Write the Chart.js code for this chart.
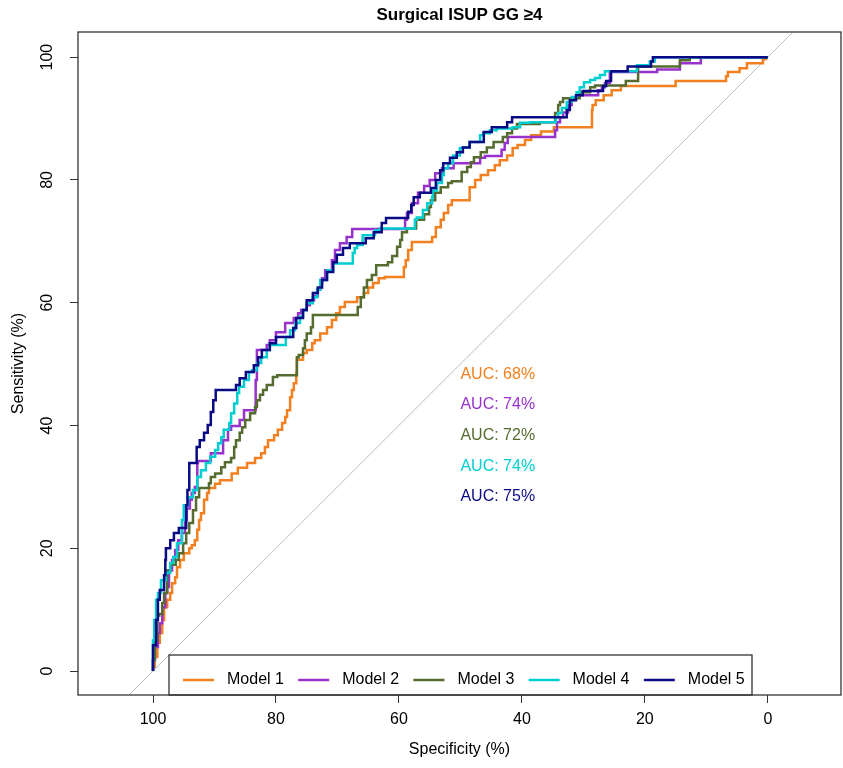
<!DOCTYPE html>
<html>
<head>
<meta charset="utf-8">
<script src="https://cdn.jsdelivr.net/npm/chart.js@4"></script>
<style>
  html, body { margin: 0; padding: 0; background: #fff; }
</style>
</head>
<body>
<canvas id="myChart" width="843" height="768"></canvas>
<script>
// ROC steps: [specificity %, sensitivity %]
// each point = end of a horizontal run at that sensitivity level
const model1 = [[100,0],[99.7,0.7],[99.3,2.3],[98.9,4.6],[98.5,6.2],[98.2,8.3],[97.7,10.4],[97.2,11.6],[96.9,12.7],[96.4,14.3],[96.1,15.3],[95.6,16.9],[95.0,18.1],[94.1,19.2],[93.7,20.0],[93.2,20.5],[92.8,21.3],[92.5,23.0],[92.2,24.6],[91.7,25.7],[91.2,27.9],[90.9,29.0],[89.9,29.8],[89.1,30.5],[87.2,31.1],[86.2,32.2],[84.7,33.1],[83.4,33.9],[82.4,34.7],[81.8,35.5],[81.3,36.5],[80.3,37.6],[79.7,38.4],[79.0,39.3],[78.5,40.4],[78.2,41.4],[77.7,42.5],[77.4,44.6],[77.1,45.8],[76.7,46.9],[76.6,48.5],[75.6,50.7],[75.0,51.8],[74.1,52.3],[73.7,53.4],[72.8,53.9],[71.7,55.0],[70.9,56.0],[70.2,57.2],[69.6,58.3],[68.8,59.3],[66.8,60.1],[65.7,60.9],[65.0,61.6],[64.2,62.5],[63.3,63.2],[62.3,64.0],[59.2,64.2],[58.9,65.8],[58.5,66.9],[57.9,68.6],[54.6,69.9],[54.0,70.7],[53.2,72.3],[52.7,73.5],[52.0,74.6],[51.4,75.9],[48.5,76.7],[47.6,78.8],[46.7,80.0],[45.5,80.8],[44.4,81.6],[43.6,82.4],[42.4,83.2],[41.5,84.0],[40.7,85.2],[39.5,85.7],[38.5,86.5],[36.9,87.3],[34.8,87.9],[28.6,88.6],[28.5,91.4],[28.0,92.2],[26.7,93.0],[25.4,93.8],[23.9,94.6],[15.0,95.3],[6.8,96.1],[6.5,96.9],[4.6,97.6],[3.4,98.2],[0.8,99.0],[0.3,99.7],[0,100]];
const model2 = [[100,0],[99.7,1.8],[99.2,3.9],[98.9,6.2],[98.5,7.8],[98.0,10.4],[97.7,12.7],[97.4,13.7],[96.9,16.4],[96.4,18.1],[95.9,19.7],[95.3,21.3],[94.8,22.5],[94.5,24.6],[94.0,26.5],[93.7,27.9],[93.2,29.0],[92.8,30.0],[92.7,33.9],[90.6,34.2],[88.6,35.5],[87.8,37.6],[87.3,39.3],[85.9,39.9],[85.2,40.9],[83.3,42.5],[83.1,47.4],[81.5,52.3],[81.0,53.1],[80.0,53.9],[78.5,55.2],[77.1,56.7],[76.4,57.5],[75.9,58.3],[75.0,58.8],[74.5,59.6],[73.8,60.4],[73.2,61.1],[72.8,62.1],[72.5,63.2],[72.0,64.0],[70.9,65.3],[70.4,66.9],[69.6,68.6],[68.5,69.7],[67.6,70.7],[59.0,72.0],[58.7,73.5],[57.9,74.6],[56.9,76.2],[55.9,77.9],[55.0,79.0],[54.1,80.0],[53.0,81.1],[51.1,81.9],[46.8,82.7],[46.0,83.6],[43.3,83.9],[42.8,84.9],[42.3,86.0],[34.6,87.0],[34.3,88.1],[33.8,89.4],[33.3,90.2],[32.5,91.0],[31.9,92.2],[31.1,93.3],[27.6,93.8],[27.0,94.6],[26.5,95.1],[25.7,95.8],[18.0,97.6],[14.3,98.0],[10.9,99.0],[0,100]];
const model3 = [[100,0],[99.7,1.8],[99.3,5.0],[99.0,9.0],[98.5,9.3],[98.2,11.1],[97.7,12.7],[97.2,16.4],[96.3,17.3],[95.8,18.1],[95.1,19.2],[94.6,20.8],[94.1,22.5],[93.5,24.1],[93.0,26.2],[92.5,28.3],[90.9,29.8],[90.6,30.6],[89.9,31.6],[88.9,32.2],[88.3,33.2],[87.3,34.0],[86.8,34.7],[86.5,36.5],[85.9,37.6],[85.5,38.8],[85.0,39.7],[84.2,40.9],[83.4,42.0],[83.1,43.0],[82.6,44.1],[82.1,45.0],[81.5,45.8],[80.5,46.6],[79.8,47.9],[76.6,48.2],[76.3,51.1],[75.6,51.5],[75.3,52.6],[75.0,53.9],[74.3,55.0],[74.0,56.0],[66.7,58.0],[66.2,59.3],[65.7,60.9],[65.2,62.5],[64.4,63.7],[63.7,64.5],[61.8,66.1],[61.1,66.6],[60.3,67.6],[59.8,69.1],[59.5,70.2],[58.7,71.5],[57.2,72.1],[55.9,73.5],[55.1,74.4],[54.8,75.6],[54.1,76.7],[53.2,77.9],[52.0,78.8],[51.4,79.5],[49.8,79.8],[48.9,81.3],[48.3,82.1],[47.8,82.9],[46.7,83.7],[45.7,84.5],[44.6,85.3],[43.1,86.2],[42.4,87.0],[41.6,87.6],[40.8,88.4],[37.1,89.1],[34.6,89.4],[34.1,90.9],[33.8,92.2],[33.3,92.7],[30.6,93.3],[28.9,94.3],[28.1,95.1],[23.1,95.4],[21.1,96.1],[14.3,98.5],[12.7,99.5],[0,100]];
const model4 = [[100,0],[99.8,5.0],[99.5,8.3],[99.2,11.6],[98.7,12.7],[97.9,14.8],[97.2,16.0],[96.7,17.6],[96.1,18.6],[95.3,20.8],[95.0,24.6],[94.3,27.0],[93.5,28.3],[92.8,29.5],[92.2,31.6],[91.4,32.7],[90.7,33.9],[89.9,34.9],[89.4,36.0],[88.9,37.1],[88.5,38.1],[87.6,39.3],[87.3,40.4],[86.8,42.0],[86.3,43.6],[86.0,45.3],[85.2,46.3],[84.4,47.4],[83.9,48.7],[83.1,49.0],[82.4,50.2],[81.5,51.1],[81.0,52.3],[78.4,53.1],[77.7,54.4],[76.9,55.5],[76.1,56.7],[75.6,57.7],[75.0,58.8],[74.0,59.9],[73.3,60.9],[72.8,62.1],[71.7,63.7],[70.7,65.3],[67.5,66.4],[67.2,68.1],[66.8,68.9],[65.9,69.4],[63.9,71.0],[63.1,71.8],[57.4,72.1],[57.1,73.5],[56.1,73.9],[55.4,75.1],[54.6,76.2],[54.5,77.2],[53.8,78.3],[53.0,79.5],[52.7,80.8],[52.0,81.9],[51.2,82.7],[50.1,84.0],[49.6,85.2],[48.5,85.3],[46.8,86.2],[46.3,87.3],[45.2,87.6],[44.1,88.1],[41.5,88.4],[40.3,88.6],[38.7,89.3],[34.5,89.4],[34.1,90.2],[33.5,90.9],[32.7,91.7],[31.9,92.7],[31.1,93.5],[30.6,94.3],[29.9,95.1],[28.9,95.9],[28.1,96.3],[27.3,96.6],[26.5,97.1],[21.3,97.7],[19.2,98.7],[18.4,99.3],[0,100]];
const model5 = [[100,0],[99.5,4.2],[99.2,8.3],[98.9,11.6],[98.2,13.2],[98.0,15.6],[97.9,18.1],[97.2,20.0],[96.6,21.3],[95.8,22.5],[94.6,23.3],[94.4,27.0],[94.1,29.5],[92.9,33.9],[92.4,36.5],[91.7,37.6],[91.1,38.8],[90.6,40.1],[90.2,42.2],[89.8,44.1],[86.5,45.8],[85.9,46.6],[84.9,47.7],[83.6,48.7],[82.9,49.8],[82.3,51.1],[81.0,52.3],[80.0,53.4],[77.2,54.4],[76.7,55.9],[75.6,57.5],[75.0,58.8],[74.0,60.4],[73.2,61.6],[72.5,62.5],[71.7,63.7],[70.7,65.0],[70.1,66.6],[69.1,67.8],[68.0,68.9],[65.4,69.7],[64.1,70.5],[62.8,71.5],[62.1,73.0],[58.5,73.8],[58.0,74.8],[57.6,75.9],[56.6,77.2],[54.8,77.9],[54.0,78.7],[53.3,80.0],[52.8,81.6],[51.7,82.7],[50.6,83.6],[49.6,84.5],[48.5,85.3],[46.2,86.2],[44.9,87.8],[42.4,88.6],[41.6,89.4],[32.7,90.2],[32.2,91.4],[31.2,93.0],[30.1,93.8],[26.8,94.5],[26.3,95.3],[25.5,96.1],[22.8,97.7],[19.0,98.5],[18.7,99.3],[0,100]];

const modelNames = ['Model 1', 'Model 2', 'Model 3', 'Model 4', 'Model 5'];
const aucValues = [68, 74, 72, 74, 75];
const specTicks = [100, 80, 60, 40, 20, 0];
const sensTicks = [0, 20, 40, 60, 80, 100];
const chartTitle = 'Surgical ISUP GG ≥4';

const lineColors = ['#F28020', '#9932CC', '#556B2F', '#00CED1', '#0A0A85'];
const FONT = "'Liberation Sans', Arial, sans-serif";

const rocs = [model1, model2, model3, model4, model5];

const datasets = rocs.map((roc, i) => ({
    label: modelNames[i],
    data: roc.map(p => ({ x: p[0], y: p[1] })),
    borderColor: lineColors[i],
    borderWidth: 2.5,
    pointRadius: 0,
    stepped: 'after',
    fill: false,
    order: 5 - i
}));
// chance line
datasets.push({
    label: 'chance',
    data: [{ x: 112.2, y: -12.2 }, { x: -12, y: 112 }],
    borderColor: '#BEBEBE',
    borderWidth: 1,
    pointRadius: 0,
    fill: false,
    order: 10
});

// title over the plot, frame, AUC labels and the boxed legend at the bottom
const rocDecor = {
    id: 'rocDecor',
    afterDatasetsDraw(chart) {
        const { ctx, chartArea: a, scales: { x, y } } = chart;
        ctx.save();

        ctx.fillStyle = '#000';
        ctx.font = 'bold 17px ' + FONT;
        ctx.textAlign = 'center';
        ctx.textBaseline = 'middle';
        ctx.fillText(chartTitle, (a.left + a.right) / 2, 15);

        ctx.font = '16px ' + FONT;
        ctx.textAlign = 'left';
        ctx.textBaseline = 'top';
        aucValues.forEach((v, i) => {
            ctx.fillStyle = lineColors[i];
            ctx.fillText('AUC: ' + v + '%', x.getPixelForValue(50), y.getPixelForValue(50 - 5 * i) + 2);
        });

        // legend box
        const bx = 169, by = 655, bw = 583, bh = 40;
        ctx.fillStyle = '#fff';
        ctx.fillRect(bx, by, bw, bh);
        ctx.strokeStyle = '#333';
        ctx.lineWidth = 1.3;
        ctx.strokeRect(bx, by, bw, bh);
        ctx.textBaseline = 'middle';
        modelNames.forEach((name, i) => {
            const lx = 183 + i * 115.2, ly = by + 25;
            ctx.strokeStyle = lineColors[i];
            ctx.lineWidth = 2.5;
            ctx.beginPath();
            ctx.moveTo(lx, ly);
            ctx.lineTo(lx + 31, ly);
            ctx.stroke();
            ctx.fillStyle = '#000';
            ctx.fillText(name, lx + 44, ly);
        });

        // plot frame
        ctx.strokeStyle = '#333';
        ctx.lineWidth = 1.3;
        ctx.strokeRect(a.left, a.top, a.right - a.left, a.bottom - a.top);
        ctx.restore();
    }
};

const ctx = document.getElementById('myChart').getContext('2d');
new Chart(ctx, {
    type: 'line',
    data: { datasets: datasets },
    options: {
        responsive: false,
        animation: false,
        devicePixelRatio: 1,
        events: [],
        layout: { padding: { top: 32, right: 2, left: 0, bottom: 0 } },
        plugins: {
            legend: { display: false },
            tooltip: { enabled: false },
            title: { display: false }
        },
        scales: {
            x: {
                type: 'linear',
                reverse: true,
                min: -11.9,
                max: 112.2,
                afterBuildTicks: s => { s.ticks = specTicks.map(v => ({ value: v })); },
                afterFit: s => { s.height = 73; },
                grid: { drawOnChartArea: false, drawTicks: true, tickLength: 8, color: '#333', lineWidth: 1 },
                border: { display: false },
                ticks: { color: '#000', font: { family: FONT, size: 16 }, padding: 7, maxRotation: 0, minRotation: 0 },
                title: { display: true, text: 'Specificity (%)', color: '#000', font: { family: FONT, size: 16 }, padding: { top: 0, bottom: 9 } }
            },
            y: {
                type: 'linear',
                min: -3.9,
                max: 104.1,
                afterBuildTicks: s => { s.ticks = sensTicks.map(v => ({ value: v })); },
                afterFit: s => { s.width = 78; },
                grid: { drawOnChartArea: false, drawTicks: true, tickLength: 8, color: '#333', lineWidth: 1 },
                border: { display: false },
                ticks: { color: '#000', font: { family: FONT, size: 16 }, padding: 9, minRotation: 90, maxRotation: 90, crossAlign: 'center' },
                title: { display: true, text: 'Sensitivity (%)', color: '#000', font: { family: FONT, size: 16 }, padding: { top: 9, bottom: 0 } }
            }
        }
    },
    plugins: [rocDecor]
});
</script>
</body>
</html>
